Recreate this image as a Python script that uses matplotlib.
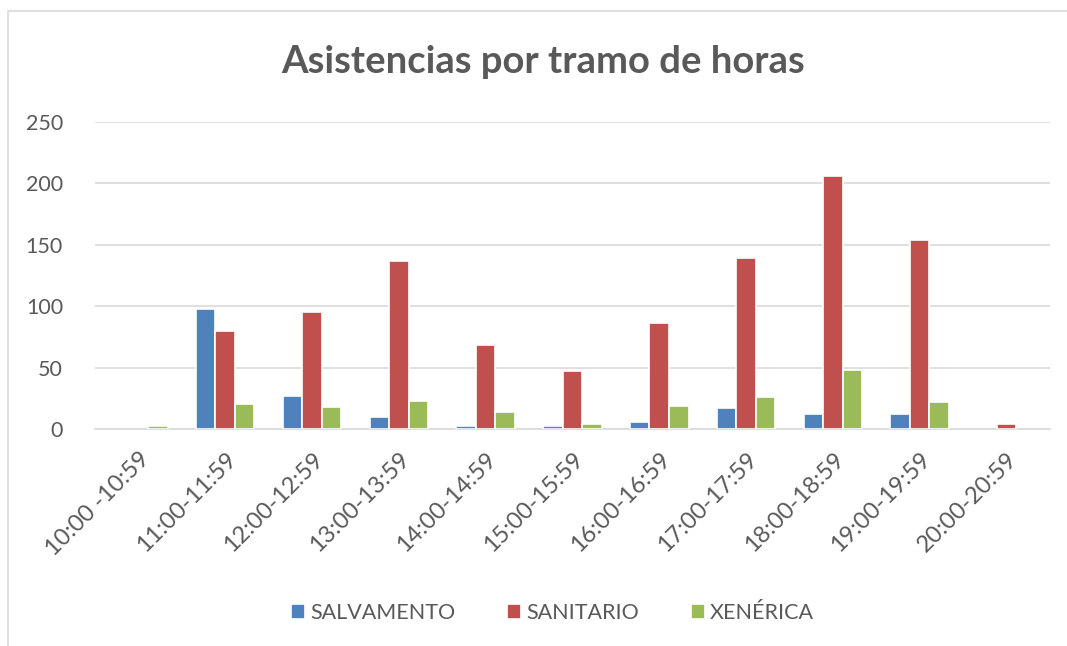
import numpy as np
import matplotlib.pyplot as plt
from matplotlib.patches import Rectangle

# datos
tramos = ["10:00 -10:59", "11:00-11:59", "12:00-12:59", "13:00-13:59", "14:00-14:59",
          "15:00-15:59", "16:00-16:59", "17:00-17:59", "18:00-18:59", "19:00-19:59",
          "20:00-20:59"]
salvamento = [0, 98, 27, 10, 2, 2, 6, 17, 12, 12, 0]
sanitario = [0, 80, 95, 137, 68, 47, 86, 139, 206, 154, 4]
xenerica = [2, 20, 18, 23, 14, 4, 19, 26, 48, 22, 0]

series = [("SALVAMENTO", salvamento, "#4F81BD"),
          ("SANITARIO", sanitario, "#C0504D"),
          ("XENÉRICA", xenerica, "#9BBB59")]

plt.rcParams['font.family'] = ['Lato', 'DejaVu Sans']
gris = "#595959"

fig = plt.figure(figsize=(10.67, 6.46), dpi=100)
ax = fig.add_axes([0.089, 0.336, 0.895, 0.475])

x = np.arange(len(tramos))
paso = 0.225
for i, (nombre, vals, color) in enumerate(series):
    # los ceros no se dibujan (si no, el borde blanco tapa la linea base)
    alturas = np.where(np.array(vals) == 0, np.nan, vals)
    ax.bar(x + (i - 1) * paso, alturas, width=paso, color=color,
           edgecolor="white", linewidth=1.2, label=nombre, zorder=3)

ax.set_xlim(-0.5, len(tramos) - 0.5)
ax.set_ylim(0, 250)
ax.set_yticks(range(0, 251, 50))
ax.yaxis.grid(True, color="#D9D9D9", linewidth=1.2, zorder=0)
for s in ["top", "right", "left"]:
    ax.spines[s].set_visible(False)
ax.spines["bottom"].set_color("#D9D9D9")
ax.spines["bottom"].set_linewidth(1.2)
ax.tick_params(axis="both", length=0, colors=gris, labelsize=15.5)
ax.tick_params(axis="y", pad=23)
ax.set_xticks(x)
ax.set_xticklabels(tramos, rotation=45, ha="right", rotation_mode="anchor",
                   fontsize=17)
ax.tick_params(axis="x", pad=14)

fig.text(0.509, 0.904, "Asistencias por tramo de horas", ha="center", va="center",
         fontsize=27.5, fontweight="bold", color=gris)

ax.legend(loc="center", bbox_to_anchor=(0.479, -0.6), ncol=3, frameon=False,
          fontsize=15.5, labelcolor=gris, handlelength=0.65, handleheight=0.65,
          handletextpad=0.25, columnspacing=2.4)

# marco del grafico
fig.patches.append(Rectangle((8 / 1067, -0.01), 1.1, 1 - 11 / 646 + 0.01,
                             transform=fig.transFigure, fill=False,
                             edgecolor="#D9D9D9", linewidth=1.2))

fig.savefig("out.png", dpi=100)
